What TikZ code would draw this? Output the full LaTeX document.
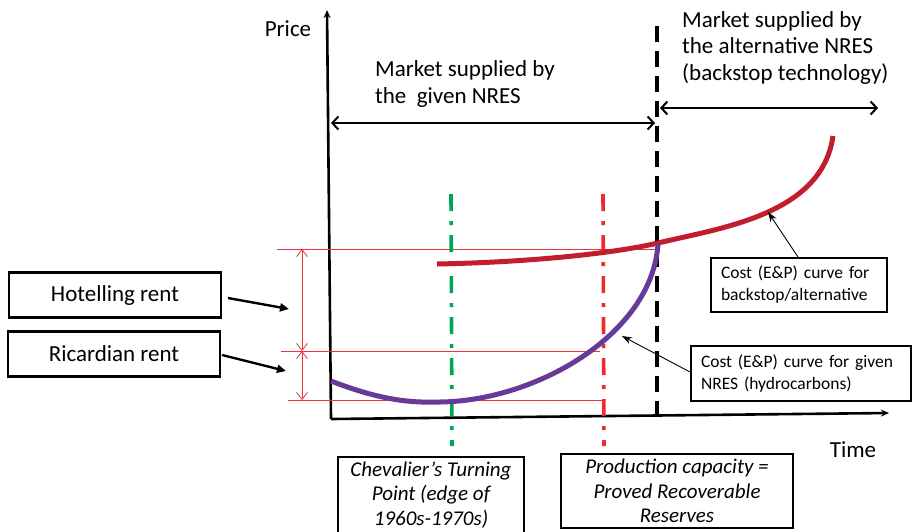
\documentclass[tikz,border=0pt]{standalone}
\usepackage{fontspec}
\setmainfont{Carlito}
\usetikzlibrary{arrows.meta}
\definecolor{backred}{HTML}{C21D2C}
\definecolor{hydropurple}{HTML}{673A97}
\definecolor{turngreen}{HTML}{00A651}
\definecolor{capred}{HTML}{EE2A30}
\definecolor{rentred}{HTML}{E8343A}
\begin{document}
\begin{tikzpicture}[x=1pt,y=-1pt,
  bigtext/.style={font=\fontsize{23}{26.5}\selectfont, inner sep=0pt},
  axislabel/.style={font=\fontsize{23}{26}\selectfont, inner sep=0pt},
  rentbox/.style={draw, line width=2.4pt, minimum width=212pt, minimum height=45pt,
    font=\fontsize{23}{26}\selectfont, inner sep=0pt},
  costbox/.style={draw, line width=2pt, align=left, anchor=north west, inner xsep=10pt,
    inner ysep=0pt, font=\fontsize{17.5}{22}\selectfont},
  notebox/.style={draw, line width=2pt, align=center, anchor=north west, inner sep=0pt,
    font=\fontsize{21}{24.5}\selectfont\itshape},
  axisline/.style={line width=2.6pt, -{Stealth[length=8pt,width=7pt]}},
  spanarrow/.style={line width=2pt, {Straight Barb[length=6pt,width=13pt,line width=2pt]}-{Straight Barb[length=6pt,width=13pt,line width=2pt]}},
  rentline/.style={rentred, line width=0.8pt},
  rentspan/.style={rentred, line width=0.8pt, {Straight Barb[length=7pt,width=11pt]}-{Straight Barb[length=7pt,width=11pt]}},
  pointer/.style={line width=2.4pt, -{Triangle[length=9pt,width=8pt]}},
  leader/.style={line width=0.9pt, -{Stealth[length=10pt,width=7pt]}},
  dashdot/.style={line width=3.6pt, dash pattern=on 17pt off 10pt on 4pt off 10pt},
]
\useasboundingbox (0,0) rectangle (912,531);

% axes
\coordinate (origin) at (331,419);
\coordinate (ytip) at (327,10);
\coordinate (xtip) at (889,413);
\draw[axisline] (origin) -- (ytip);
\draw[axisline] (origin) -- (xtip);
\node[axislabel, anchor=base] (price) at (288,36) {Price};
\node[axislabel, anchor=base] (time) at (853,457) {Time};

% switch to the backstop technology
\coordinate (switchtop) at (657,26);
\coordinate (switchbot) at (657,419);
\draw[line width=3.8pt, dash pattern=on 16pt off 9pt] (switchtop) -- (switchbot);

% market periods (base anchor sits on the last line)
\node[bigtext, align=left, anchor=base west] (givenmkt) at (375,103) {Market supplied by\\the~ given NRES};
\node[bigtext, align=left, anchor=base west] (altmkt) at (682,80) {Market supplied by\\the alternative NRES\\(backstop technology)};
\coordinate (gl) at (331,123);
\coordinate (gr) at (655,123);
\coordinate (al) at (660,108);
\coordinate (ar) at (878,108);
\draw[spanarrow] (gl) -- (gr);
\draw[spanarrow] (al) -- (ar);

% rent levels
\coordinate (hl) at (277,249);
\coordinate (hr) at (656,249);
\coordinate (ml) at (281,351);
\coordinate (mr) at (600,351);
\coordinate (ll) at (288,400);
\coordinate (lr) at (604,400);
\draw[rentline] (hl) -- (hr);
\draw[rentline] (ml) -- (mr);
\draw[rentline] (ll) -- (lr);
\coordinate (ht) at (302,249);
\coordinate (hm) at (302,351);
\coordinate (hb) at (302,400);
\draw[rentspan] (ht) -- (hm);
\draw[rentspan] (hm) -- (hb);

% vertical markers
\coordinate (gtop) at (451,194);
\coordinate (gbot) at (452,446);
\coordinate (rtop) at (603,194);
\coordinate (rbot) at (604,446);
\draw[dashdot, turngreen] (gtop) -- (gbot);
\draw[dashdot, capred] (rtop) -- (rbot);

% cost curves
\draw[line width=5pt, backred] (437,264) .. controls (540,262) and (620,252) .. (658,243)
  .. controls (720,228) and (822,215) .. (833,136);
\draw[line width=5pt, hydropurple] (331,381) .. controls (380,400) and (410,403) .. (440,402)
  .. controls (535,401) and (652,335) .. (658,244);
\coordinate (backpt) at (768,212);
\coordinate (hydropt) at (622,336);

% rent labels
\node[rentbox] (hot) at (115,295) {Hotelling rent};
\node[rentbox] (ric) at (114,354) {Ricardian rent};
\coordinate (hotpt) at (289,309);
\coordinate (ricpt) at (286,371);
\draw[pointer] (228,298) -- (hotpt);
\draw[pointer] (222,355) -- (ricpt);

% cost curve labels
\node[costbox, text width=156pt, minimum height=54pt] (backbox) at (710,257)
  {Cost (E\&P) curve for\\backstop/alternative};
\node[costbox, text width=200pt, minimum height=55pt] (hydrobox) at (690,345)
  {Cost (E\&P) curve for given\\NRES (hydrocarbons)};
\draw[leader] (backbox.north -| 798,0) -- (backpt);
\draw[leader] (hydrobox.west |- 0,372) -- (hydropt);

% event notes
\node[notebox, minimum width=186pt, minimum height=76pt] (chev) at (337,456)
  {Chevalier’s Turning\\Point (edge of\\1960s-1970s)};
\node[notebox, minimum width=232pt, minimum height=74pt] (prod) at (560,453)
  {Production capacity =\\Proved Recoverable\\Reserves};
\end{tikzpicture}
\end{document}
